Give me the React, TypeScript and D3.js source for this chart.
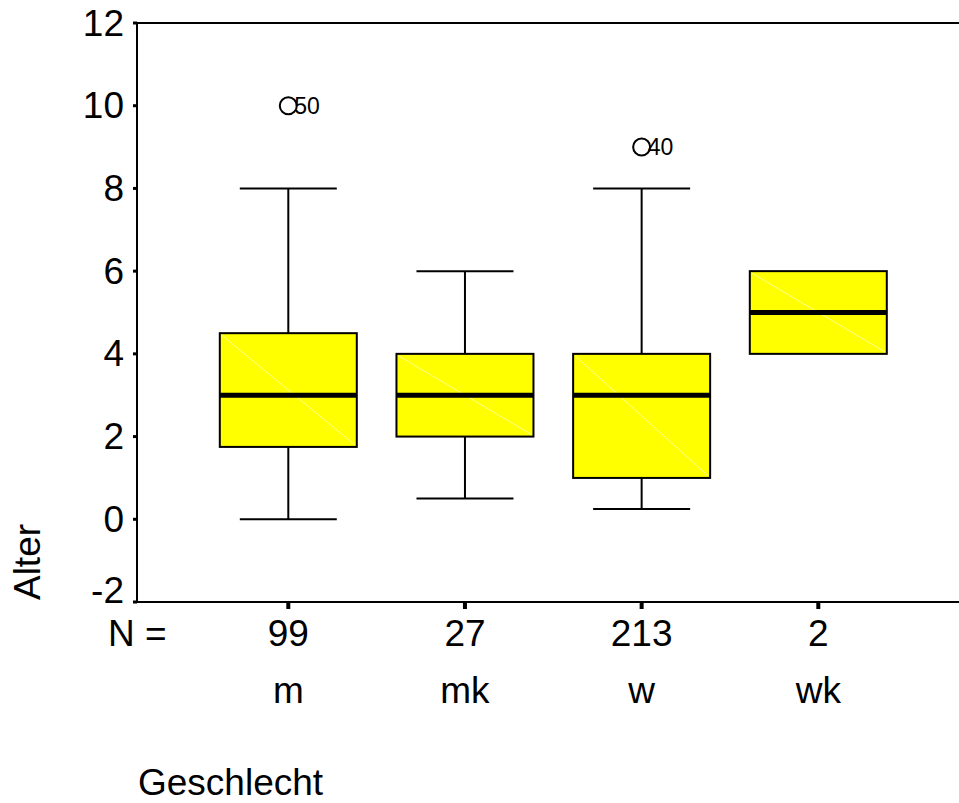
import React from "react";
import * as d3 from "d3";

const categories = ["m", "mk", "w", "wk"];
const counts = [99, 27, 213, 2];
const q1 = [1.75, 2, 1, 4];
const medians = [3, 3, 3, 5];
const q3 = [4.5, 4, 4, 6];
const whiskerLow: (number | null)[] = [0, 0.5, 0.25, null];
const whiskerHigh: (number | null)[] = [8, 6, 8, null];
const outliers = [
  { cat: "m", value: 10, label: "50" },
  { cat: "w", value: 9, label: "40" },
];
const yTicks = [-2, 0, 2, 4, 6, 8, 10, 12];

const W = 959;
const H = 803;
const FONT = "'Liberation Sans', Arial, Helvetica, sans-serif";

export default function App() {
  const left = 137;
  const top = 23;
  const bottom = 602;
  const y = d3.scaleLinear().domain([-2, 12]).range([bottom, top]);
  const x = d3.scalePoint<string>().domain(categories).range([288.3, 818.3]);
  const boxW = 137;
  const capW = 97;
  const fs = 37;

  return (
    <svg
      width={W}
      height={H}
      style={{ position: "absolute", left: 0, top: 0, background: "#fff" }}
      fontFamily={FONT}
    >
      {/* frame */}
      <line x1={left} x2={W} y1={top} y2={top} stroke="#000" strokeWidth={2} />
      <line x1={left} x2={W} y1={bottom} y2={bottom} stroke="#000" strokeWidth={2} />
      <line x1={left} x2={left} y1={top - 1} y2={bottom + 1} stroke="#000" strokeWidth={2} />

      {/* y ticks */}
      {yTicks.map((t, i) => (
        <g key={t}>
          <line x1={left - 4} x2={left} y1={y(t)} y2={y(t)} stroke="#000" strokeWidth={3} />
          <text
            x={124}
            y={y(t) + (i === 0 ? -12 : 0)}
            textAnchor="end"
            dominantBaseline="central"
            fontSize={fs}
          >
            {t}
          </text>
        </g>
      ))}

      {/* y label */}
      <text
        transform={`translate(40, 562) rotate(-90)`}
        textAnchor="middle"
        fontSize={fs}
      >
        Alter
      </text>

      {/* x ticks and labels */}
      <text x={108} y={646} fontSize={fs}>N =</text>
      {categories.map((c, i) => (
        <g key={c}>
          <line x1={x(c)!} x2={x(c)!} y1={bottom + 1} y2={bottom + 7} stroke="#000" strokeWidth={4} />
          <text x={x(c)!} y={646} textAnchor="middle" fontSize={fs}>
            {counts[i]}
          </text>
          <text x={x(c)!} y={703} textAnchor="middle" fontSize={fs}>
            {c}
          </text>
        </g>
      ))}
      <text x={138} y={795} fontSize={fs}>Geschlecht</text>

      {/* boxes */}
      {categories.map((c, i) => {
        const cx = x(c)!;
        const x0 = cx - boxW / 2;
        const x1 = cx + boxW / 2;
        const lo = whiskerLow[i];
        const hi = whiskerHigh[i];
        return (
          <g key={c}>
            {hi !== null && (
              <>
                <line x1={cx} x2={cx} y1={y(hi)} y2={y(q3[i])} stroke="#000" strokeWidth={2} />
                <line x1={cx - capW / 2} x2={cx + capW / 2} y1={y(hi)} y2={y(hi)} stroke="#000" strokeWidth={2} />
              </>
            )}
            {lo !== null && (
              <>
                <line x1={cx} x2={cx} y1={y(lo)} y2={y(q1[i])} stroke="#000" strokeWidth={2} />
                <line x1={cx - capW / 2} x2={cx + capW / 2} y1={y(lo)} y2={y(lo)} stroke="#000" strokeWidth={2} />
              </>
            )}
            <rect
              x={x0}
              y={y(q3[i])}
              width={boxW}
              height={y(q1[i]) - y(q3[i])}
              fill="#ffff00"
              stroke="#000"
              strokeWidth={2}
            />
            <line
              x1={x0 + 2}
              y1={y(q3[i]) + 2}
              x2={x1 - 2}
              y2={y(q1[i]) - 2}
              stroke="#ffff90"
              strokeWidth={1}
            />
            <line
              x1={x0}
              x2={x1}
              y1={y(medians[i])}
              y2={y(medians[i])}
              stroke="#000"
              strokeWidth={5}
            />
          </g>
        );
      })}

      {/* outliers */}
      {outliers.map((o) => {
        const cx = x(o.cat)!;
        return (
          <g key={o.label}>
            <circle cx={cx} cy={y(o.value)} r={8.5} fill="none" stroke="#000" strokeWidth={2} />
            <text x={cx + 6} y={y(o.value)} dominantBaseline="central" fontSize={23}>
              {o.label}
            </text>
          </g>
        );
      })}
    </svg>
  );
}
